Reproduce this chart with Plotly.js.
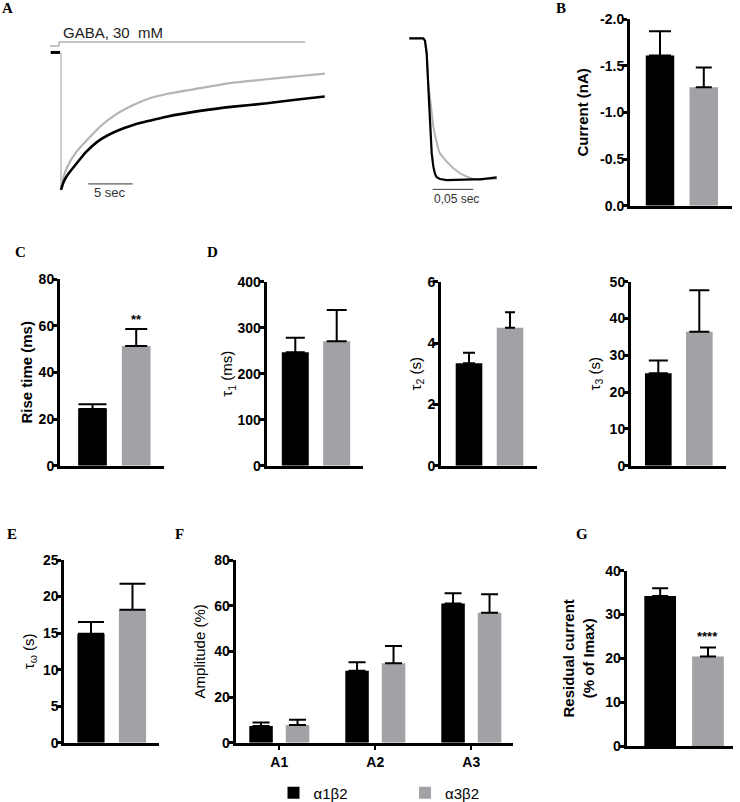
<!DOCTYPE html>
<html><head><meta charset="utf-8">
<script src="https://cdn.plot.ly/plotly-3.0.1.min.js"></script>
<style>html,body{margin:0;padding:0;background:#fff}#chart{width:740px;height:802px}</style>
</head><body><div id="chart"></div>
<script>
// ================= DATA =================
const groups = ['α1β2', 'α3β2'];

// Panel A: normalized current traces (time in s, current normalized to peak)
const traceTime = [0, 0.26, 0.64, 1.77, 2.89, 4.39, 6.27, 8.14, 10.0, 11.9, 15.65, 19.4, 23.2, 26.9, 29.7];
const traceA1B2 = [-1.0, -0.947, -0.90, -0.806, -0.72, -0.636, -0.571, -0.527, -0.496, -0.467, -0.425, -0.394, -0.37, -0.34, -0.32];
const traceA3B2 = [-1.0, -0.915, -0.84, -0.72, -0.64, -0.54, -0.447, -0.382, -0.333, -0.302, -0.26, -0.22, -0.195, -0.171, -0.154];
const onsetTime = [0, 0];
const onsetCurrent = [0, -1.0];
const baselineTime = [-1.16, -0.11];
const baselineCurrent = [0, 0];
const gabaTime = [-1.24, -0.23, -0.23, 27.5];
const gabaLevel = [0.047, 0.047, 0.076, 0.076];
const scaleA_t = [3.07, 8.07];          // 5 s scale bar
const scaleA_I = [-0.956, -0.956];

// Panel A inset: rising phase (time in ms)
const insetTime = [0, 17.2, 19.3, 21.4, 23.4, 25.5, 27.6, 29.6, 31.7, 33.7, 35.7, 37.8, 46.0, 54.2, 62.4, 70.6, 78.8, 87.1, 103.5, 107.6];
const insetA1B2 = [0, 0, -0.017, -0.106, -0.343, -0.579, -0.816, -0.91, -0.962, -0.985, -0.993, -0.998, -1.005, -1.003, -1.0, -1.0, -1.0, -1.0, -0.99, -0.986];
const insetA3B2 = [0, 0, -0.017, -0.106, -0.319, -0.426, -0.532, -0.627, -0.69, -0.745, -0.785, -0.816, -0.875, -0.922, -0.957, -0.981, -0.998, -1.0, -0.995, -0.995];
const scaleI_t = [28.8, 78.8];          // 0.05 s scale bar
const scaleI_I = [-1.071, -1.071];

// Panel B: peak current (nA)
const currentMean = [-1.61, -1.27];
const currentSem = [0.26, 0.21];
const currentTickVals = [0, -0.5, -1.0, -1.5, -2.0];
const currentTickText = ['0.0', '-0.5', '-1.0', '-1.5', '-2.0'];

// Panel C: rise time (ms)
const riseMean = [24.3, 51.3];
const riseSem = [2.0, 7.3];

// Panel D: decay time constants
const tau1Mean = [246.5, 270.4];
const tau1Sem = [31.8, 68.1];
const tau2Mean = [3.34, 4.50];
const tau2Sem = [0.34, 0.50];
const tau3Mean = [25.1, 36.4];
const tau3Sem = [3.5, 11.3];

// Panel E: weighted tau (s)
const tauWMean = [14.9, 18.2];
const tauWSem = [1.6, 3.55];

// Panel F: relative amplitudes (%)
const ampCats = ['A1', 'A2', 'A3'];
const ampA1B2 = [7.3, 31.5, 61.0];
const ampA1B2Sem = [1.5, 3.7, 4.4];
const ampA3B2 = [7.8, 34.8, 56.9];
const ampA3B2Sem = [2.3, 7.5, 8.1];

// Panel G: residual current (% of Imax)
const residualMean = [34.2, 20.4];
const residualSem = [1.8, 2.1];

// ================= STYLE / LAYOUT =================
const W = 740, H = 802;
const SANS = 'Liberation Sans, Arial, sans-serif';
const SERIF = 'Liberation Serif, Times New Roman, serif';
const COLORS = ['#000000', '#a1a1a6'];
function xd(a, b) { return [a / W, b / W]; }
function yd(top, bottom) { return [1 - bottom / H, 1 - top / H]; }

const traces = [];
function lineTrace(x, y, xa, ya, color, width, shape) {
  return { type: 'scatter', mode: 'lines', x: x, y: y, xaxis: xa, yaxis: ya,
    line: { color: color, width: width, shape: shape || 'linear', smoothing: 0.6 },
    showlegend: false, hoverinfo: 'skip' };
}
// Panel A
traces.push(lineTrace(gabaTime, gabaLevel, 'x', 'y', '#8a8a8a', 1));
traces.push(lineTrace(baselineTime, baselineCurrent, 'x', 'y', '#000', 3));
traces.push(lineTrace(onsetTime, onsetCurrent, 'x', 'y', '#9a9a9a', 1));
traces.push(lineTrace(traceTime, traceA3B2, 'x', 'y', '#b4b4b4', 2.2, 'spline'));
traces.push(lineTrace(traceTime, traceA1B2, 'x', 'y', '#000', 2.6, 'spline'));
traces.push(lineTrace(scaleA_t, scaleA_I, 'x', 'y', '#333', 1));
// Inset
traces.push(lineTrace(insetTime, insetA3B2, 'x2', 'y2', '#b4b4b4', 2));
traces.push(lineTrace(insetTime, insetA1B2, 'x2', 'y2', '#000', 2.2));
traces.push(lineTrace(scaleI_t, scaleI_I, 'x2', 'y2', '#333', 1));

function pairTraces(xa, ya, means, sems, caps, width, negative) {
  return groups.map((g, i) => ({
    type: 'bar', x: [g], y: [means[i]], xaxis: xa, yaxis: ya, width: width, name: g,
    marker: { color: COLORS[i], line: { width: 0 } }, showlegend: false, hoverinfo: 'skip',
    error_y: { type: 'data', symmetric: false,
      array: [negative ? 0 : sems[i]], arrayminus: [negative ? sems[i] : 0],
      color: '#000', thickness: 2, width: caps[i] }
  }));
}
traces.push(...pairTraces('x3', 'y3', currentMean, currentSem, [11, 8], 0.65, true));
traces.push(...pairTraces('x4', 'y4', riseMean, riseSem, [14, 11], 0.657));
traces.push(...pairTraces('x5', 'y5', tau1Mean, tau1Sem, [9.5, 10], 0.652));
traces.push(...pairTraces('x6', 'y6', tau2Mean, tau2Sem, [6, 5], 0.649));
traces.push(...pairTraces('x7', 'y7', tau3Mean, tau3Sem, [9.5, 10], 0.65));
traces.push(...pairTraces('x8', 'y8', tauWMean, tauWSem, [13, 13], 0.655));
traces.push(...pairTraces('x10', 'y10', residualMean, residualSem, [8, 8], 0.663));
// Panel F grouped
[[ampA1B2, ampA1B2Sem, -0.3125], [ampA3B2, ampA3B2Sem, 0.0675]].forEach((d, i) => {
  traces.push({ type: 'bar', x: ampCats, y: d[0], xaxis: 'x9', yaxis: 'y9', name: groups[i],
    width: 0.245, offset: d[2], marker: { color: COLORS[i], line: { width: 0 } },
    showlegend: true, hoverinfo: 'skip',
    error_y: { type: 'data', symmetric: false, array: d[1], arrayminus: [0, 0, 0],
      color: '#000', thickness: 2, width: 8.5 } });
});

function hiddenAxis(dom, range, anchor, isY) {
  return { domain: isY ? yd(dom[0], dom[1]) : xd(dom[0], dom[1]), range: range, anchor: anchor,
    visible: false, showgrid: false, zeroline: false, fixedrange: true };
}
function barX(dom, range, anchor, extra) {
  return Object.assign({ domain: xd(dom[0], dom[1]), range: range, anchor: anchor, type: 'category',
    showline: true, linewidth: 3, linecolor: '#000', showticklabels: false, ticks: '',
    showgrid: false, zeroline: false, automargin: false, fixedrange: true }, extra || {});
}
function barY(dom, range, anchor, dtick, title, bold, standoff, extra) {
  return Object.assign({ domain: yd(dom[0], dom[1]), range: range, anchor: anchor,
    showline: true, linewidth: 3, linecolor: '#000', ticks: 'outside', ticklen: 5, tickwidth: 3,
    tickcolor: '#000', dtick: dtick, tick0: 0, ticklabelstandoff: -5,
    tickfont: { family: SANS, size: 14, color: '#000', weight: 'bold' },
    title: { text: title, standoff: standoff,
      font: { family: SANS, size: 15, color: '#000', weight: bold ? 'bold' : 'normal' } },
    showgrid: false, zeroline: false, automargin: false, fixedrange: true }, extra || {});
}

const layout = {
  width: W, height: H, margin: { l: 0, r: 0, t: 0, b: 0, autoexpand: false },
  paper_bgcolor: '#fff', plot_bgcolor: 'rgba(0,0,0,0)', barmode: 'overlay',
  font: { family: SANS, color: '#000' },
  xaxis: hiddenAxis([40, 340], [-2.365, 31.42], 'y'),
  yaxis: hiddenAxis([20, 200], [-1.073, 0.236], 'x', true),
  xaxis2: hiddenAxis([400, 510], [-11.45, 124.0], 'y2'),
  yaxis2: hiddenAxis([25, 205], [-1.182, 0.0943], 'x2', true),
  xaxis3: barX([630, 731.7], [-0.685, 1.637], 'y3'),
  yaxis3: barY([19, 205.7], [0, -2], 'x3', null, 'Current (nA)', true, 8,
    { tickmode: 'array', tickvals: currentTickVals, ticktext: currentTickText }),
  xaxis4: barX([60, 164.3], [-0.744, 1.643], 'y4'),
  yaxis4: barY([279, 465.7], [0, 80], 'x4', 20, 'Rise time (ms)', true, 3),
  xaxis5: barX([266.7, 363.3], [-0.691, 1.643], 'y5'),
  yaxis5: barY([281.7, 465.7], [0, 400], 'x5', 100, 'τ<sub>1</sub> (ms)', false, 1),
  xaxis6: barX([441, 536.7], [-0.683, 1.651], 'y6'),
  yaxis6: barY([281.7, 465.7], [0, 6], 'x6', 2, 'τ<sub>2</sub> (s)', false, 3),
  xaxis7: barX([631, 726], [-0.666, 1.651], 'y7'),
  yaxis7: barY([281.7, 465.7], [0, 50], 'x7', 10, 'τ<sub>3</sub> (s)', false, 6),
  xaxis8: barX([64.3, 159.3], [-0.643, 1.646], 'y8'),
  yaxis8: barY([560, 742.7], [0, 25], 'x8', 5, 'τ<sub>ω</sub> (s)', false, 5),
  xaxis9: barX([235.7, 513.3], [-0.454, 2.4375], 'y9', {
    showticklabels: true, ticks: 'outside', ticklen: 4, tickwidth: 2, tickcolor: '#000',
    tickfont: { family: SANS, size: 14, color: '#000', weight: 'bold' } }),
  yaxis9: barY([560, 742.7], [0, 80], 'x9', 20, 'Amplitude (%)', false, 6),
  xaxis10: barX([626.7, 733], [-0.70, 1.523], 'y10'),
  yaxis10: barY([570.7, 746], [0, 40], 'x10', 10, 'Residual current<br>(% of Imax)', true, 8),
  showlegend: true,
  legend: { orientation: 'h', x: 273.5 / W, y: 1 - 793 / H, xanchor: 'left', yanchor: 'middle',
    font: { family: SANS, size: 15, color: '#000' }, bgcolor: 'rgba(0,0,0,0)',
    entrywidth: 86.5, entrywidthmode: 'pixels', itemclick: false, itemdoubleclick: false },
  annotations: []
};

const ann = layout.annotations;
function txt(text, x, y, xref, yref, font, extra) {
  ann.push(Object.assign({ text: text, x: x, y: y, xref: xref, yref: yref, showarrow: false,
    xanchor: 'center', yanchor: 'middle', font: font }, extra || {}));
}
const letterFont = { family: SERIF, size: 15, color: '#000', weight: 'bold' };
[['A', 7, 7.5], ['B', 561, 7.5], ['C', 20, 252.5], ['D', 212, 252.5],
 ['E', 12, 534], ['F', 179, 534], ['G', 582, 534]].forEach(l => {
  txt(l[0], l[1] / W, 1 - l[2] / H, 'paper', 'paper', letterFont);
});
txt('GABA, 30\u00a0 mM', 5.89, 0.145, 'x', 'y', { family: SANS, size: 15, color: '#222' });
txt('5 sec', 5.57, -1.018, 'x', 'y', { family: SANS, size: 13, color: '#333' });
txt('0,05 sec', 58.7, -1.142, 'x2', 'y2', { family: SANS, size: 12, color: '#333' });
txt('**', 1, 62.5, 'x4', 'y4', { family: SANS, size: 13, color: '#000', weight: 'bold' });
txt('****', 1, 25.0, 'x10', 'y10', { family: SANS, size: 13, color: '#000', weight: 'bold' });

Plotly.newPlot('chart', traces, layout, { staticPlot: true, displayModeBar: false });
</script>
</body></html>
